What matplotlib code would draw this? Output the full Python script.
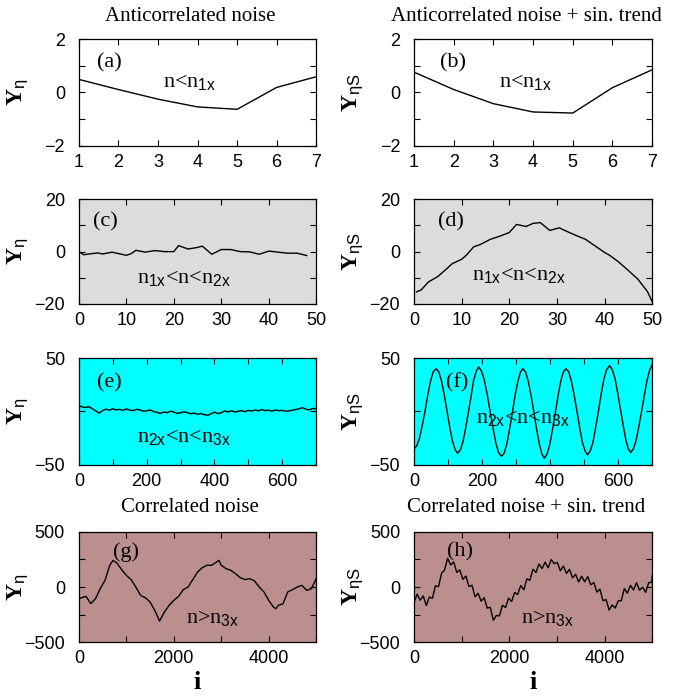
import numpy as np
import matplotlib.pyplot as plt

plt.rcParams['mathtext.fontset'] = 'custom'
plt.rcParams['mathtext.rm'] = 'Liberation Serif'
plt.rcParams['mathtext.bf'] = 'Liberation Serif:bold'
plt.rcParams['mathtext.it'] = 'Liberation Serif:italic'
plt.rcParams['mathtext.sf'] = 'Liberation Sans'
plt.rcParams['font.family'] = 'Liberation Sans'

# (a), (b): n < n1x
ab_x = [1, 2, 3, 4, 5, 6, 7]
a_y = [0.49, 0.11, -0.25, -0.54, -0.63, 0.19, 0.59]
b_y = [0.76, 0.11, -0.42, -0.73, -0.77, 0.18, 0.85]

# (c), (d): n1x < n < n2x
c_x = [0, 1, 2, 4, 5, 7, 8, 10, 11, 12, 14, 16, 18, 20, 21, 23, 25, 26, 28,
       30, 32, 34, 36, 38, 40, 42, 44, 46, 48]
c_y = [0.0, -1.2, -0.9, -0.5, -0.9, -0.2, -0.6, -1.4, -0.8, 0.5, -0.2, 0.4,
       0.0, 0.0, 2.3, 1.0, 1.6, 2.1, -1.0, 0.8, 0.8, 0.0, -0.1, -1.0, 0.2,
       -0.2, -0.6, -0.6, -1.5]
d_x = [0.5, 1.5, 3, 5, 7, 8, 10, 11, 12.5, 14, 16, 18, 20, 21.5, 23.5, 25,
       26.5, 28.5, 30.5, 32, 34, 36, 38, 40, 41, 43, 45, 47, 49, 50]
d_y = [-15.4, -14.6, -11.6, -9.5, -6.3, -4.6, -2.9, -1.3, 1.8, 2.8, 4.7, 5.9,
       7.3, 10.4, 9.6, 10.8, 11.1, 8.1, 9.1, 7.8, 6.2, 4.7, 2.2, -0.3, -1.3,
       -4.0, -7.2, -10.5, -15.2, -19.0]

# (e), (f): n2x < n < n3x
e_x = np.arange(0, 701, 10)
e_y = [5.5, 4.2, 3.7, 4.5, 2.5, 0.5, -1.5, 0.8, 2.2, 1.2, 2.5, 1.5, 2.0, 1.0,
       2.4, 1.2, 0.8, 2.0, 1.5, 0.2, 0.6, 1.4, 0.0, -0.8, -1.8, -0.5, -1.2,
       0.2, -0.5, -1.8, -1.2, -0.4, -1.0, -2.2, -1.5, -2.6, -2.0, -3.0, -3.6,
       -2.2, -0.6, -2.0, -1.2, 0.5, -0.4, 0.6, -0.5, 0.2, 0.8, -0.2, 1.0, 0.4,
       1.4, 0.6, 1.8, 0.8, 1.2, 0.3, 1.4, 0.8, 1.0, 0.2, 0.6, 1.2, 1.8, 2.6,
       3.6, 2.0, 1.6, 2.8, 2.6]
f_x = [0, 8, 16, 24, 32, 40, 48, 56, 65,
       73, 81, 89, 97, 105, 113, 121, 128,
       136, 144, 152, 160, 168, 175, 183, 190,
       198, 206, 215, 223, 232, 240, 248, 257,
       265, 273, 281, 289, 297, 305, 313, 320,
       328, 336, 344, 352, 360, 368, 376, 383,
       391, 399, 407, 415, 423, 431, 439, 447,
       455, 463, 471, 479, 487, 495, 503, 510,
       518, 526, 534, 542, 550, 558, 566, 575,
       583, 591, 599, 607, 615, 623, 630, 637,
       645, 653, 661, 669, 677, 685, 693, 700]
f_y = [-35, -32, -25, -13, 0, 15, 28, 37, 40,
       37, 28, 15, 0, -15, -28, -36, -39,
       -36, -28, -15, 0, 15, 29, 38, 41.6,
       38, 30, 16, 1, -15, -29, -38, -42,
       -39, -30, -16, -1, 15, 28, 37, 40,
       37, 28, 15, 0, -16, -30, -40, -43.7,
       -40, -31, -17, -2, 14, 28, 37, 40,
       37, 28, 15, 0, -15, -29, -37, -40.6,
       -37, -29, -15, 0, 16, 30, 39, 43,
       39, 31, 17, 2, -13, -27, -35, -38.4,
       -35, -27, -14, 0, 15, 29, 39, 43.7]

# (g), (h): n > n3x
g_x = [0, 100, 150, 250, 350, 450, 550, 650, 720, 800, 900, 1000, 1100, 1200,
       1300, 1400, 1500, 1600, 1700, 1800, 1900, 2000, 2100, 2200, 2300, 2400,
       2500, 2600, 2700, 2800, 2900, 2950, 3000, 3100, 3200, 3300, 3400, 3500,
       3600, 3700, 3800, 3900, 4000, 4100, 4150, 4200, 4300, 4400, 4500, 4600,
       4700, 4800, 4900, 5000]
g_y = [-106, -91, -85, -150, -106, -15, 60, 197, 242, 218, 158, 106, 67, 0,
       -76, -97, -136, -212, -309, -227, -167, -121, -85, -24, 0, 67, 136, 176,
       197, 197, 227, 242, 197, 167, 152, 121, 85, 67, 76, 55, 0, -45, -121,
       -182, -197, -167, -152, -45, -24, 0, 15, -30, -15, 76]
h_x = np.append(np.arange(0, 5000, 64), 5000)
h_y = [-137, -65, -119, -81, -168, -91, -103, 11, 3, 124,
       155, 260, 200, 227, 132, 155, 69, 100, 4, 16,
       -89, -57, -128, -97, -191, -184, -302, -258, -262, -165,
       -186, -100, -132, -50, -67, 14, -25, 74, 61, 161,
       132, 209, 167, 225, 174, 249, 212, 223, 147, 190,
       124, 160, 83, 116, 47, 97, 47, 94, 20, 41,
       -46, -20, -125, -113, -208, -163, -191, -126, -124, -14,
       -56, 15, -27, 39, -29, -2, -48, 39, 43, 100]

col_x = [0.116, 0.609]
col_w = [0.349, 0.350]
row_y = [0.791, 0.5645, 0.334, 0.080]
row_h = [0.153, 0.150, 0.153, 0.158]

fig = plt.figure(figsize=(6.8, 6.98), dpi=100)


def make_axes(row, col):
    ax = fig.add_axes([col_x[col], row_y[row], col_w[col], row_h[row]])
    ax.tick_params(which='both', direction='in', top=True, right=True,
                   length=4, width=0.8, labelsize=13)
    ax.tick_params(axis='y', which='both', pad=10)
    ax.tick_params(axis='x', which='both', pad=6)
    for s in ax.spines.values():
        s.set_linewidth(0.9)
    return ax


def ylab(ax, sub):
    ax.set_ylabel(r'$\mathbf{Y}_{\mathsf{' + sub + '}}$', fontsize=17)
    ax.yaxis.set_label_coords(-0.205, 0.5)


def note(ax, x, y, s, size=16):
    ax.text(x, y, s, transform=ax.transAxes, fontsize=size, va='center',
            ha='left', family='Liberation Serif')


def head(ax, s, y):
    ax.text(0.47, y, s, transform=ax.transAxes, ha='center', va='baseline',
            fontsize=15, family='Liberation Serif')


# row 1
for col, ys, sub, lab in [(0, a_y, r'\eta', '(a)'), (1, b_y, r'\eta S', '(b)')]:
    ax = make_axes(0, col)
    ax.plot(ab_x, ys, color='black', lw=1)
    ax.set_xlim(1, 7)
    ax.set_ylim(-2, 2)
    ax.set_xticks(range(1, 8))
    ax.set_yticks([-2, 0, 2])
    ax.set_yticks([-1, 1], minor=True)
    ylab(ax, sub)
    note(ax, 0.075 if col == 0 else 0.11, 0.78, lab)
    note(ax, 0.355, 0.6, r'n<n$_{\mathsf{1x}}$')
    head(ax, ['Anticorrelated noise', 'Anticorrelated noise + sin. trend'][col], 1.17)

# row 2
for col, xs, ys, sub, lab in [(0, c_x, c_y, r'\eta', '(c)'), (1, d_x, d_y, r'\eta S', '(d)')]:
    ax = make_axes(1, col)
    ax.set_facecolor('#dcdcdc')
    ax.plot(xs, ys, color='black', lw=1)
    ax.set_xlim(0, 50)
    ax.set_ylim(-20, 20)
    ax.set_xticks(range(0, 51, 10))
    ax.set_yticks([-20, 0, 20])
    ax.set_yticks([-10, 10], minor=True)
    ylab(ax, sub)
    note(ax, 0.06 if col == 0 else 0.10, 0.78, lab)
    note(ax, 0.245, 0.25 if col == 0 else 0.28,
         r'n$_{\mathsf{1x}}$<n<n$_{\mathsf{2x}}$')

# row 3
for col, xs, ys, sub, lab in [(0, e_x, e_y, r'\eta', '(e)'), (1, f_x, f_y, r'\eta S', '(f)')]:
    ax = make_axes(2, col)
    ax.set_facecolor('#00ffff')
    ax.plot(xs, ys, color='black', lw=1)
    ax.set_xlim(0, 700)
    ax.set_ylim(-50, 50)
    ax.set_xticks([0, 200, 400, 600])
    ax.set_xticks([100, 300, 500, 700], minor=True)
    ax.set_yticks([-50, 50])
    ax.set_yticks([0], minor=True)
    ylab(ax, sub)
    note(ax, 0.075 if col == 0 else 0.135, 0.77, lab)
    note(ax, 0.245 if col == 0 else 0.26, 0.26 if col == 0 else 0.44,
         r'n$_{\mathsf{2x}}$<n<n$_{\mathsf{3x}}$')

# row 4
for col, xs, ys, sub, lab in [(0, g_x, g_y, r'\eta', '(g)'), (1, h_x, h_y, r'\eta S', '(h)')]:
    ax = make_axes(3, col)
    ax.set_facecolor('#bc8f8f')
    ax.plot(xs, ys, color='black', lw=1)
    ax.set_xlim(0, 5000)
    ax.set_ylim(-500, 500)
    ax.set_xticks([0, 2000, 4000])
    ax.set_xticks([1000, 3000, 5000], minor=True)
    ax.set_yticks([-500, 0, 500])
    ax.set_yticks([-250, 250], minor=True)
    ylab(ax, sub)
    ax.set_xlabel(r'$\mathbf{i}$', fontsize=19, labelpad=2)
    note(ax, 0.145 if col == 0 else 0.14, 0.82, lab)
    note(ax, 0.45, 0.22, r'n>n$_{\mathsf{3x}}$')
    head(ax, ['Correlated noise', 'Correlated noise + sin. trend'][col], 1.18)

fig.savefig('out.png', dpi=100)
